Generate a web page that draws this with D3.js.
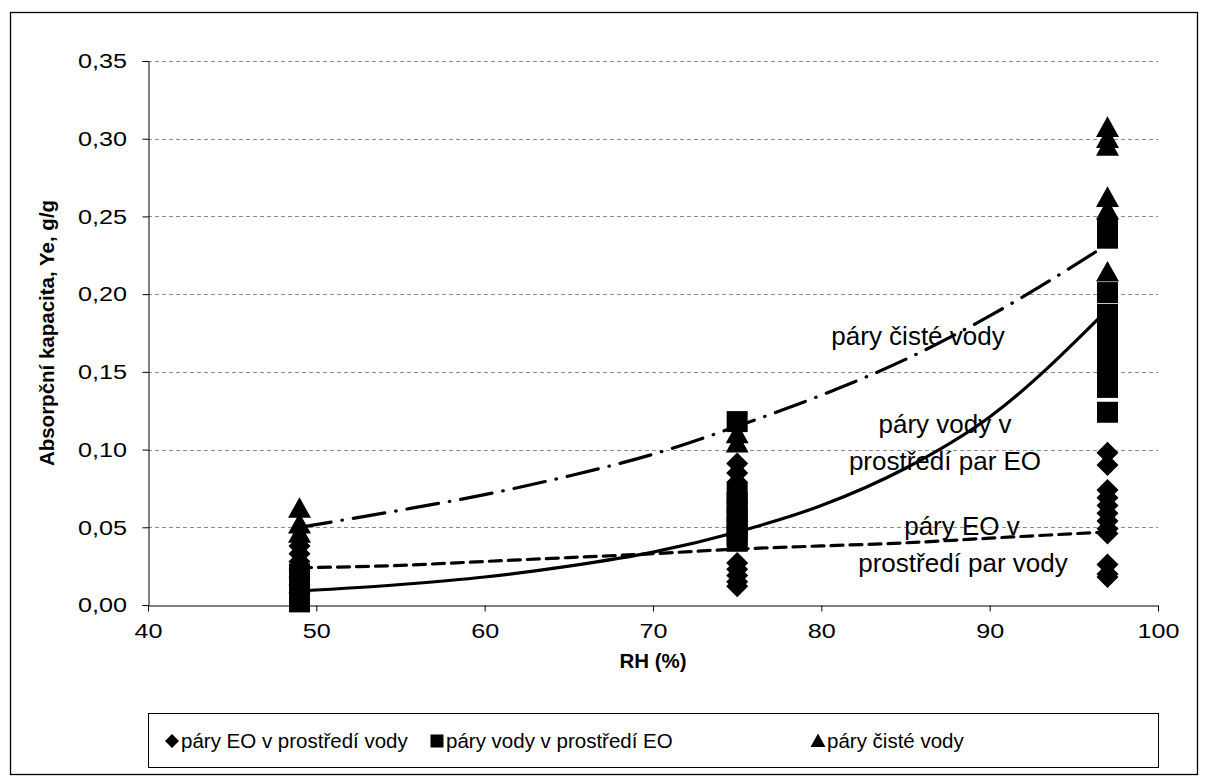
<!DOCTYPE html>
<html>
<head>
<meta charset="utf-8">
<script src="https://cdn.jsdelivr.net/npm/d3@7"></script>
<style>
  body { margin: 0; background: #fff; }
  svg text { font-family: "Liberation Sans", Arial, sans-serif; }
</style>
</head>
<body>
<svg id="chart" width="1208" height="778"></svg>
<script>
// values
const yTicks = [0, 0.05, 0.10, 0.15, 0.20, 0.25, 0.30, 0.35];
const xTicks = [40, 50, 60, 70, 80, 90, 100];

// páry EO v prostředí vody (diamonds)
const eoX = [49, 49, 49, 49, 49, 49, 49,
             75, 75, 75, 75, 75, 75, 75, 75,
             97, 97, 97, 97, 97, 97, 97, 97, 97, 97, 97, 97];
const eoY = [0.038, 0.033, 0.028, 0.023, 0.018, 0.013, 0.008,
             0.091, 0.085, 0.079, 0.027, 0.023, 0.019, 0.015, 0.012,
             0.098, 0.090, 0.074, 0.069, 0.064, 0.059, 0.054, 0.049, 0.046, 0.026, 0.020, 0.018];

// páry vody v prostředí EO (squares)
const waterEoX = [49, 49, 49, 49, 49, 49,
                  75, 75, 75, 75, 75, 75, 75, 75,
                  97, 97, 97, 97, 97, 97, 97, 97, 97, 97, 97];
const waterEoY = [0.020, 0.016, 0.012, 0.008, 0.004, 0.002,
                  0.118, 0.072, 0.066, 0.060, 0.055, 0.050, 0.045, 0.041,
                  0.242, 0.236, 0.201, 0.187, 0.178, 0.170, 0.162, 0.154, 0.147, 0.140, 0.124];

// páry čisté vody (triangles)
const pureX = [49, 49, 49, 75, 75, 97, 97, 97, 97, 97, 97];
const pureY = [0.062, 0.052, 0.046, 0.110, 0.104, 0.307, 0.300, 0.295, 0.262, 0.254, 0.214];

// trendlines, points
const trendX = [49, 55, 60, 65, 70, 75, 80, 85, 90, 97];
const trendPure = [0.050, 0.061, 0.071, 0.083, 0.097, 0.115, 0.135, 0.158, 0.186, 0.232];
const trendWaterEo = [0.009, 0.0132, 0.018, 0.025, 0.034, 0.047, 0.064, 0.088, 0.121, 0.190];
const trendEo = [0.024, 0.0255, 0.028, 0.0305, 0.033, 0.036, 0.038, 0.040, 0.043, 0.047];

const svg = d3.select("#chart");

// outer border
svg.append("rect")
  .attr("x", 10.5).attr("y", 12.5)
  .attr("width", 1187).attr("height", 762)
  .attr("fill", "#fff").attr("stroke", "#000").attr("stroke-width", 1.3);

const mLeft = 148, mRight = 1158, mTop = 61, mBottom = 605;
const stretch = 1.2; // tick labels look horizontally stretched in the original

const x = d3.scaleLinear().domain([40, 100]).range([mLeft, mRight]);
const y = d3.scaleLinear().domain([0, 0.35]).range([mBottom, mTop]);

const fmt = d => d3.format(".2f")(d).replace(".", ",");

// gridlines
svg.append("g")
  .selectAll("line")
  .data(yTicks.slice(1))
  .join("line")
  .attr("x1", mLeft).attr("x2", mRight)
  .attr("y1", d => Math.round(y(d)) + 0.5).attr("y2", d => Math.round(y(d)) + 0.5)
  .attr("stroke", "#8c8c8c").attr("stroke-width", 1)
  .attr("stroke-dasharray", "4,3");

// y axis
const yAxis = d3.axisLeft(y).tickValues(yTicks).tickFormat(fmt).tickSize(6);
const gy = svg.append("g")
  .attr("transform", `translate(${mLeft + 0.5},0)`)
  .call(yAxis);
gy.select(".domain").attr("stroke", "#000");
gy.selectAll("text")
  .attr("font-size", 21).attr("fill", "#000")
  .attr("font-family", "Liberation Sans, Arial, sans-serif")
  .attr("x", -21.5 / stretch)
  .attr("transform", `scale(${stretch},1)`);

// x axis
const xAxis = d3.axisBottom(x).tickValues(xTicks).tickSizeInner(6).tickSizeOuter(0).tickPadding(12);
const gx = svg.append("g")
  .attr("transform", `translate(0,${mBottom + 0.5})`)
  .call(xAxis);
gx.select(".domain").attr("stroke", "#000");
gx.selectAll("text")
  .attr("font-size", 21).attr("fill", "#000")
  .attr("font-family", "Liberation Sans, Arial, sans-serif")
  .attr("transform", `scale(${stretch},1)`);

// axis titles
svg.append("text")
  .attr("transform", `translate(54,${(mTop + mBottom) / 2}) rotate(-90)`)
  .attr("text-anchor", "middle")
  .attr("font-size", 20.5).attr("font-weight", "bold")
  .text("Absorpční kapacita, Ye, g/g");

svg.append("text")
  .attr("x", (mLeft + mRight) / 2).attr("y", 668)
  .attr("text-anchor", "middle")
  .attr("font-size", 20.5).attr("font-weight", "bold")
  .text("RH (%)");

// marker shapes
const diamond = s => `M0,${-s}L${s},0L0,${s}L${-s},0Z`;
const square = s => `M${-s},${-s}H${s}V${s}H${-s}Z`;
const triangle = s => `M0,${-s}L${s},${s * 0.8}L${-s},${s * 0.8}Z`;

function drawPoints(xs, ys, shape, size) {
  svg.append("g")
    .selectAll("path")
    .data(xs.map((d, i) => [d, ys[i]]))
    .join("path")
    .attr("transform", d => `translate(${x(d[0])},${y(d[1])})`)
    .attr("d", shape(size))
    .attr("fill", "#000");
}

drawPoints(eoX, eoY, diamond, 11);
drawPoints(waterEoX, waterEoY, square, 10.5);
drawPoints(pureX, pureY, triangle, 11.5);

// trendlines
const line = d3.line()
  .x(d => x(d[0]))
  .y(d => y(d[1]))
  .curve(d3.curveMonotoneX);

function drawTrend(vals, dash) {
  svg.append("path")
    .datum(trendX.map((d, i) => [d, vals[i]]))
    .attr("fill", "none")
    .attr("stroke", "#000")
    .attr("stroke-width", 3.2)
    .attr("stroke-linecap", "round")
    .attr("stroke-dasharray", dash)
    .attr("d", line);
}

drawTrend(trendPure, "32,11,0.5,11");
drawTrend(trendWaterEo, null);
drawTrend(trendEo, "12,7");

// annotations
const notes = [
  { t: "páry čisté vody", x: 918, y: 345 },
  { t: "páry vody v", x: 945, y: 433 },
  { t: "prostředí par EO", x: 945, y: 470 },
  { t: "páry EO v", x: 962, y: 535 },
  { t: "prostředí par vody", x: 963, y: 572 }
];
svg.append("g")
  .selectAll("text")
  .data(notes)
  .join("text")
  .attr("x", d => d.x).attr("y", d => d.y)
  .attr("text-anchor", "middle")
  .attr("font-family", "Lato, 'Open Sans', sans-serif")
  .attr("font-size", 26)
  .attr("fill", "#000")
  .text(d => d.t);

// legend
svg.append("rect")
  .attr("x", 148.5).attr("y", 713.5)
  .attr("width", 1010).attr("height", 54)
  .attr("fill", "#fff").attr("stroke", "#000").attr("stroke-width", 1);

const legendItems = [
  { t: "páry EO v prostředí vody", x: 172, shape: diamond, s: 7 },
  { t: "páry vody v prostředí EO", x: 437, shape: square, s: 6.5 },
  { t: "páry čisté vody", x: 818, shape: triangle, s: 7.5 }
];
const lg = svg.append("g").selectAll("g").data(legendItems).join("g")
  .attr("transform", d => `translate(${d.x},741)`);
lg.append("path").attr("d", d => d.shape(d.s)).attr("fill", "#000");
lg.append("text")
  .attr("x", 9).attr("y", 7)
  .attr("font-size", 20.5)
  .text(d => d.t);
</script>
</body>
</html>
